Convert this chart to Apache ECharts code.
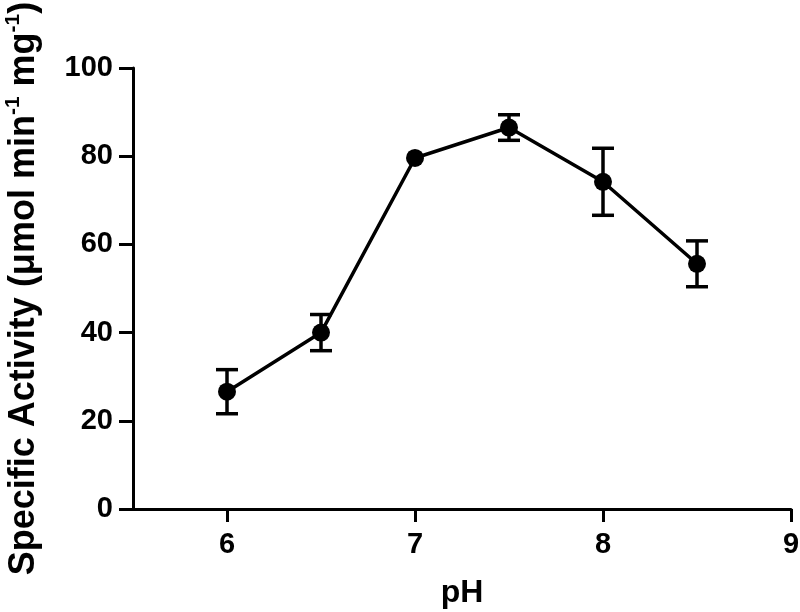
<!DOCTYPE html>
<html>
<head>
<meta charset="utf-8">
<script src="https://cdn.jsdelivr.net/npm/echarts@6/dist/echarts.min.js"></script>
<style>
html,body{margin:0;padding:0;background:#fff;}
#chart{width:800px;height:612px;}
</style>
</head>
<body>
<div id="chart"></div>
<script>
// Data
var phValues = [6, 6.5, 7, 7.5, 8, 8.5];
var activity = [26.6, 40.0, 79.6, 86.5, 74.2, 55.6];
var errorSD = [5.0, 4.1, 1.0, 2.9, 7.6, 5.2];
var xTickValues = [6, 7, 8, 9];

var FONT = '"Liberation Sans", Arial, Helvetica, sans-serif';
var SYMBOL_SIZE = 18;

var lineData = phValues.map(function (x, i) { return [x, activity[i]]; });
var errData = phValues.map(function (x, i) { return [x, activity[i] - errorSD[i], activity[i] + errorSD[i]]; });

var chart = echarts.init(document.getElementById('chart'), null, {renderer: 'canvas'});
chart.setOption({
  backgroundColor: '#ffffff',
  animation: false,
  grid: {left: 133, right: 9, top: 68, bottom: 103, containLabel: false, outerBoundsMode: 'none'},
  xAxis: {
    type: 'value',
    min: 5.5,
    max: 9,
    name: 'pH',
    nameLocation: 'middle',
    nameGap: 68,
    nameTextStyle: {fontFamily: FONT, fontWeight: 'bold', fontSize: 32, color: '#000'},
    axisLine: {onZero: false, lineStyle: {color: '#000', width: 3}},
    axisTick: {show: true, length: 13, customValues: xTickValues, lineStyle: {color: '#000', width: 3}},
    axisLabel: {customValues: xTickValues, margin: 21, fontFamily: FONT, fontWeight: 'bold', fontSize: 29, color: '#000'},
    splitLine: {show: false}
  },
  yAxis: {
    type: 'value',
    min: 0,
    max: 100,
    interval: 20,
    name: '{b|Specific Activity (μmol min}{s|-1}{b| mg}{s|-1}{b|)}',
    nameLocation: 'middle',
    nameGap: 88,
    nameTextStyle: {
      fontFamily: FONT, fontWeight: 'bold', fontSize: 36, color: '#000',
      rich: {
        b: {fontFamily: FONT, fontWeight: 'bold', fontSize: 36, color: '#000', lineHeight: 42},
        s: {fontFamily: FONT, fontWeight: 'bold', fontSize: 21, color: '#000', verticalAlign: 'top', lineHeight: 42}
      }
    },
    axisLine: {show: true, lineStyle: {color: '#000', width: 3}},
    axisTick: {show: true, length: 14, lineStyle: {color: '#000', width: 3}},
    axisLabel: {margin: 20, fontFamily: FONT, fontWeight: 'bold', fontSize: 29, color: '#000'},
    splitLine: {show: false}
  },
  series: [
    {
      type: 'custom',
      name: 'error',
      z: 2,
      renderItem: function (params, api) {
        var x = api.value(0);
        var lo = api.coord([x, api.value(1)]);
        var hi = api.coord([x, api.value(2)]);
        // like the source software: bars shorter than the symbol are hidden behind it
        if (Math.abs(lo[1] - hi[1]) / 2 < SYMBOL_SIZE / 2) {
          return {type: 'group', children: []};
        }
        var hw = 11;
        var st = {stroke: '#000', lineWidth: 3.5, fill: null};
        return {
          type: 'group',
          children: [
            {type: 'line', shape: {x1: lo[0], y1: lo[1], x2: hi[0], y2: hi[1]}, style: st},
            {type: 'line', shape: {x1: lo[0] - hw, y1: lo[1], x2: lo[0] + hw, y2: lo[1]}, style: st},
            {type: 'line', shape: {x1: hi[0] - hw, y1: hi[1], x2: hi[0] + hw, y2: hi[1]}, style: st}
          ]
        };
      },
      encode: {x: 0, y: [1, 2]},
      data: errData
    },
    {
      type: 'line',
      name: 'activity',
      z: 3,
      data: lineData,
      symbol: 'circle',
      symbolSize: SYMBOL_SIZE,
      lineStyle: {color: '#000', width: 3.5},
      itemStyle: {color: '#000'}
    }
  ]
});
</script>
</body>
</html>
